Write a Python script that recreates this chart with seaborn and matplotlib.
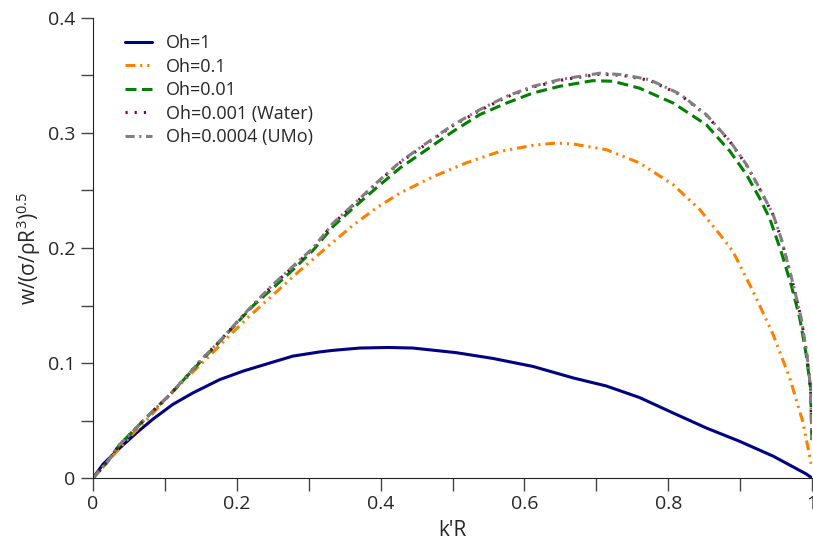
import numpy as np
import pandas as pd
import matplotlib
matplotlib.use("Agg")
import matplotlib.pyplot as plt
from matplotlib.ticker import MultipleLocator, FuncFormatter
import seaborn as sns

# values (k'R, scaled growth rate)
x_oh1 = [0, 0.014, 0.037, 0.060, 0.083, 0.111, 0.139, 0.176, 0.209, 0.246, 0.278, 0.315,
         0.334, 0.371, 0.41, 0.445, 0.505, 0.556, 0.612, 0.668, 0.714, 0.760, 0.807, 0.853,
         0.899, 0.946, 0.992, 1.0]
y_oh1 = [0, 0.012, 0.026, 0.039, 0.051, 0.064, 0.074, 0.0855, 0.093, 0.100, 0.106, 0.1096,
         0.111, 0.113, 0.1135, 0.113, 0.109, 0.104, 0.097, 0.087, 0.080, 0.070, 0.0565, 0.0435,
         0.032, 0.019, 0.0035, 0.0]

x_oh01 = [0, 0.02, 0.05, 0.08, 0.10, 0.13, 0.16, 0.19, 0.218, 0.25, 0.287, 0.324, 0.362, 0.394,
          0.427, 0.473, 0.519, 0.566, 0.612, 0.644, 0.668, 0.714, 0.760, 0.807, 0.844, 0.872,
          0.890, 0.918, 0.946, 0.969, 0.987, 0.999]
y_oh01 = [0, 0.014, 0.035, 0.054, 0.068, 0.087, 0.105, 0.124, 0.141, 0.159, 0.18, 0.2, 0.22,
          0.2348, 0.2478, 0.262, 0.274, 0.284, 0.2893, 0.2913, 0.2904, 0.2855, 0.274, 0.255,
          0.2333, 0.2116, 0.197, 0.1623, 0.1246, 0.087, 0.0493, 0.012]

x_oh001 = [0, 0.02, 0.037, 0.06, 0.083, 0.107, 0.13, 0.153, 0.176, 0.199, 0.223, 0.25, 0.278,
           0.306, 0.334, 0.362, 0.394, 0.427, 0.464, 0.501, 0.538, 0.575, 0.612, 0.649, 0.668,
           0.695, 0.723, 0.76, 0.807, 0.853, 0.886, 0.909, 0.927, 0.941, 0.957, 0.971, 0.983,
           0.992, 0.998, 1.0]
y_oh001 = [0, 0.014, 0.029, 0.0435, 0.058, 0.0725, 0.088, 0.1035, 0.1185, 0.134, 0.150, 0.165,
           0.181, 0.198, 0.2188, 0.2348, 0.2522, 0.2696, 0.2855, 0.3015, 0.316, 0.326, 0.3348,
           0.3406, 0.3426, 0.3455, 0.345, 0.339, 0.326, 0.3072, 0.284, 0.2637, 0.2435, 0.226,
           0.197, 0.168, 0.139, 0.107, 0.078, 0.03]

x_water = [0, 0.02, 0.037, 0.06, 0.083, 0.107, 0.13, 0.153, 0.176, 0.199, 0.223, 0.25, 0.278,
           0.306, 0.334, 0.362, 0.394, 0.427, 0.464, 0.501, 0.538, 0.575, 0.612, 0.649, 0.668,
           0.705, 0.737, 0.774, 0.816, 0.853, 0.886, 0.909, 0.927, 0.946, 0.957, 0.974, 0.985,
           0.993, 0.998, 1.0]
y_water = [0, 0.014, 0.029, 0.0435, 0.058, 0.0725, 0.0885, 0.1045, 0.119, 0.1345, 0.1505, 0.1675,
           0.1835, 0.1995, 0.2212, 0.2372, 0.256, 0.2742, 0.2906, 0.3065, 0.3196, 0.3312, 0.3399,
           0.3457, 0.3477, 0.3512, 0.35, 0.3458, 0.3335, 0.3155, 0.2924, 0.272, 0.2516, 0.2286,
           0.2083, 0.1675, 0.1385, 0.1065, 0.0775, 0.032]

x_umo = [0, 0.02, 0.037, 0.06, 0.083, 0.107, 0.13, 0.153, 0.176, 0.199, 0.223, 0.25, 0.278,
         0.306, 0.334, 0.362, 0.394, 0.427, 0.464, 0.501, 0.538, 0.575, 0.612, 0.649, 0.668,
         0.705, 0.737, 0.774, 0.816, 0.853, 0.886, 0.909, 0.927, 0.946, 0.957, 0.974, 0.985,
         0.993, 0.998, 1.0]
y_umo = [0, 0.014, 0.029, 0.0435, 0.058, 0.0725, 0.0885, 0.1045, 0.119, 0.1348, 0.151, 0.168,
         0.184, 0.200, 0.2217, 0.2377, 0.2565, 0.2748, 0.2913, 0.3072, 0.3203, 0.3319, 0.3406,
         0.3464, 0.3484, 0.352, 0.3507, 0.3464, 0.334, 0.316, 0.2928, 0.2724, 0.252, 0.229,
         0.2087, 0.168, 0.139, 0.107, 0.078, 0.033]

labels = ["Oh=1", "Oh=0.1", "Oh=0.01", "Oh=0.001 (Water)", "Oh=0.0004 (UMo)"]
xs = [x_oh1, x_oh01, x_oh001, x_water, x_umo]
ys = [y_oh1, y_oh01, y_oh001, y_water, y_umo]
colors = ["#000080", "#ff8000", "#008000", "#800040", "#808080"]
styles = ["-", (0, (3.2, 1.6, 0.7, 1.6, 0.7, 1.6)), (0, (3.6, 1.8)),
          (0, (0.7, 2.3)), (0, (3.0, 1.5, 0.7, 1.5))]

sns.set_style("ticks")
plt.rcParams["font.family"] = ["Open Sans", "DejaVu Sans"]
plt.rcParams["mathtext.default"] = "regular"

fig = plt.figure(figsize=(8.13, 5.44), dpi=100)
ax = fig.add_axes([93 / 813, 66 / 544, 719 / 813, 460 / 544])

for lab, x, y, c, ls in zip(labels, xs, ys, colors, styles):
    df = pd.DataFrame({"kR": x, "w": y})
    sns.lineplot(data=df, x="kR", y="w", ax=ax, color=c, linestyle=ls,
                 linewidth=2.2, label=lab)

ax.set_xlim(0, 1)
ax.set_ylim(0, 0.4)
ax.xaxis.set_major_locator(MultipleLocator(0.2))
ax.xaxis.set_minor_locator(MultipleLocator(0.1))
ax.yaxis.set_major_locator(MultipleLocator(0.1))
ax.yaxis.set_minor_locator(MultipleLocator(0.05))
fmt = FuncFormatter(lambda v, p: "0" if abs(v) < 1e-9 else ("1" if abs(v - 1) < 1e-9 else f"{v:.1f}"))
ax.xaxis.set_major_formatter(fmt)
ax.yaxis.set_major_formatter(fmt)
ax.tick_params(which="both", direction="out", length=9, width=1, color="#444444",
               labelsize=14)
sns.despine(ax=ax)
for s in ["left", "bottom"]:
    ax.spines[s].set_color("#222222")

ax.set_xlabel("k'R", fontsize=15, labelpad=5)
ax.set_ylabel(r"w/(σ/ρR$^3$)$^{0.5}$", fontsize=15)

ax.legend(loc="upper left", bbox_to_anchor=(0.022, 1.0), frameon=False, fontsize=13,
          handlelength=1.5, handletextpad=0.77, labelspacing=0.3)

fig.savefig("out.png", dpi=100)
